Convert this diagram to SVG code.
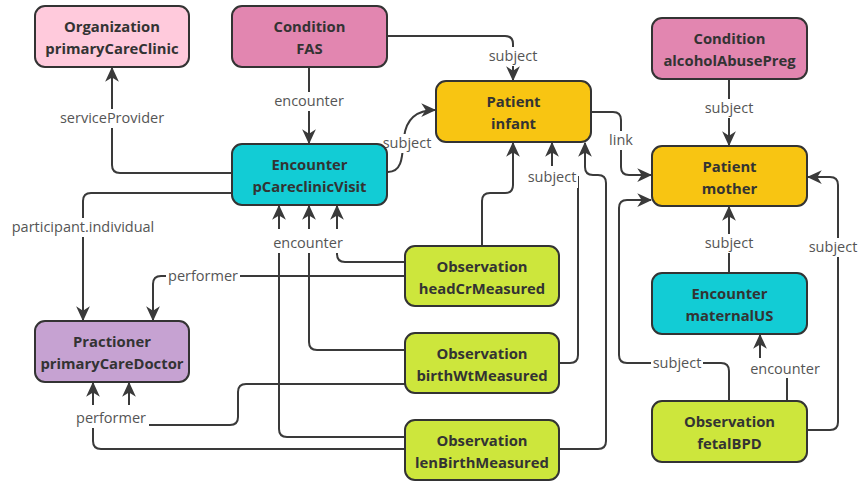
<svg xmlns="http://www.w3.org/2000/svg" width="859" height="482" viewBox="0 0 859 482">
  <style>
    .node rect { stroke: #333; stroke-width: 2; rx: 10; ry: 10; }
    .node text { font-family: "Open Sans", "DejaVu Sans", sans-serif; font-weight: 700; font-size: 14.8px; fill: #333; text-anchor: middle; }
    .org { fill: #FFCADC; }
    .cond { fill: #E286B0; }
    .enc { fill: #12CCD5; }
    .pat { fill: #F8C512; }
    .obs { fill: #CDE63C; }
    .prac { fill: #C6A2D2; }
    .edge { fill: none; stroke: #3a3a3a; stroke-width: 2; marker-end: url(#arrow); }
    .lbg { fill: #fff; }
    .lbl { font-family: "Open Sans", "DejaVu Sans", sans-serif; font-size: 14.5px; fill: #555; text-anchor: middle; }
  </style>
  <defs>
    <marker id="arrow" viewBox="0 0 12 12" refX="11" refY="6" markerWidth="15" markerHeight="15" markerUnits="userSpaceOnUse" orient="auto">
      <path d="M0,0.5 L12,6 L0,11.5 L3.5,6 z" fill="#3a3a3a"/>
    </marker>
  </defs>
  <rect width="859" height="482" fill="#fff"/>

  <!-- connectors -->
  <g id="connectors">
    <path class="edge" d="M232,173 H120 Q112,173 112,165 V68"/>
    <path class="edge" d="M309,67 V143"/>
    <path class="edge" d="M387,36 H505 Q513,36 513,44 V80"/>
    <path class="edge" d="M388,172 C404,172 402,152 404,137 C406,121 414,110 435,110"/>
    <path class="edge" d="M591,112 H613 Q621,112 621,120 V167 Q621,175 629,175 H651"/>
    <path class="edge" d="M729,79 V145"/>
    <path class="edge" d="M729,273 V207"/>
    <path class="edge" d="M787,401 V370 H760 V335"/>
    <path class="edge" d="M729,401 V371 Q729,363 721,363 H627 Q619,363 619,355 V208 Q619,200 627,200 H651"/>
    <path class="edge" d="M807,430 H830 Q838,430 838,422 V185 Q838,177 830,177 H808"/>
    <path class="edge" d="M232,193 H91 Q83,193 83,201 V320"/>
    <path class="edge" d="M405,276 H161 Q153,276 153,284 V320"/>
    <path class="edge" d="M405,262 H345 Q337,262 337,254 V206"/>
    <path class="edge" d="M405,350 H317 Q309,350 309,342 V206"/>
    <path class="edge" d="M405,437 H287 Q279,437 279,429 V206"/>
    <path class="edge" d="M405,384 H246 Q238,384 238,392 V417 Q238,425 230,425 H129 V383"/>
    <path class="edge" d="M405,449 H101 Q93,449 93,441 V383"/>
    <path class="edge" d="M559,363 H570 Q578,363 578,355 V177 H552 V143"/>
    <path class="edge" d="M482,246 V201 Q482,193 490,193 H505 Q513,193 513,185 V143"/>
    <path class="edge" d="M559,449 H598 Q606,449 606,441 V183 Q606,175 598,175 H593 Q585,175 585,167 V143"/>

    <!-- connector labels -->
    <rect class="lbg" x="58" y="109" width="108" height="19"/>
    <text class="lbl" x="112" y="123">serviceProvider</text>
    <rect class="lbg" x="273" y="92" width="72" height="19"/>
    <text class="lbl" x="309" y="106">encounter</text>
    <rect class="lbg" x="487" y="47" width="52" height="19"/>
    <text class="lbl" x="513" y="61">subject</text>
    <rect class="lbg" x="381" y="134" width="52" height="19"/>
    <text class="lbl" x="407" y="148">subject</text>
    <rect class="lbg" x="607" y="131" width="28" height="19"/>
    <text class="lbl" x="621" y="145">link</text>
    <rect class="lbg" x="703" y="99" width="52" height="19"/>
    <text class="lbl" x="729" y="113">subject</text>
    <rect class="lbg" x="703" y="234" width="52" height="19"/>
    <text class="lbl" x="729" y="248">subject</text>
    <rect class="lbg" x="749" y="358" width="72" height="20"/>
    <text class="lbl" x="785" y="374">encounter</text>
    <rect class="lbg" x="651" y="354" width="52" height="19"/>
    <text class="lbl" x="677" y="368">subject</text>
    <rect class="lbg" x="807" y="238" width="52" height="19"/>
    <text class="lbl" x="833" y="252">subject</text>
    <rect class="lbg" x="9" y="218" width="148" height="19"/>
    <text class="lbl" x="83" y="232">participant.individual</text>
    <rect class="lbg" x="166" y="267" width="74" height="19"/>
    <text class="lbl" x="203" y="281">performer</text>
    <rect class="lbg" x="271" y="229" width="74" height="24"/>
    <text class="lbl" x="308" y="248">encounter</text>
    <rect class="lbg" x="73" y="405" width="76" height="23"/>
    <text class="lbl" x="111" y="423">performer</text>
    <rect class="lbg" x="525" y="166" width="53" height="22"/>
    <text class="lbl" x="552" y="182">subject</text>
  </g>

  <!-- nodes -->
  <g id="organization-primaryCareClinic" class="node">
    <rect class="org" x="35" y="6" width="154" height="61"/>
    <text x="112" y="32">Organization</text>
    <text x="112" y="54">primaryCareClinic</text>
  </g>
  <g id="condition-FAS" class="node">
    <rect class="cond" x="232" y="6" width="155" height="61"/>
    <text x="309.5" y="32">Condition</text>
    <text x="309.5" y="54">FAS</text>
  </g>
  <g id="encounter-pCareclinicVisit" class="node">
    <rect class="enc" x="232" y="144" width="155" height="61"/>
    <text x="309.5" y="170">Encounter</text>
    <text x="309.5" y="192">pCareclinicVisit</text>
  </g>
  <g id="patient-infant" class="node">
    <rect class="pat" x="436" y="81" width="155" height="61"/>
    <text x="513.5" y="107">Patient</text>
    <text x="513.5" y="129">infant</text>
  </g>
  <g id="condition-alcoholAbusePreg" class="node">
    <rect class="cond" x="652" y="18" width="155" height="61"/>
    <text x="729.5" y="44">Condition</text>
    <text x="729.5" y="66">alcoholAbusePreg</text>
  </g>
  <g id="patient-mother" class="node">
    <rect class="pat" x="652" y="146" width="155" height="60"/>
    <text x="729.5" y="171.5">Patient</text>
    <text x="729.5" y="193.5">mother</text>
  </g>
  <g id="encounter-maternalUS" class="node">
    <rect class="enc" x="652" y="273" width="155" height="61"/>
    <text x="729.5" y="299">Encounter</text>
    <text x="729.5" y="321">maternalUS</text>
  </g>
  <g id="observation-fetalBPD" class="node">
    <rect class="obs" x="652" y="401" width="155" height="61"/>
    <text x="729.5" y="427">Observation</text>
    <text x="729.5" y="449">fetalBPD</text>
  </g>
  <g id="observation-headCrMeasured" class="node">
    <rect class="obs" x="405" y="246" width="154" height="60"/>
    <text x="482" y="271.5">Observation</text>
    <text x="482" y="293.5">headCrMeasured</text>
  </g>
  <g id="observation-birthWtMeasured" class="node">
    <rect class="obs" x="405" y="333" width="154" height="60"/>
    <text x="482" y="358.5">Observation</text>
    <text x="482" y="380.5">birthWtMeasured</text>
  </g>
  <g id="observation-lenBirthMeasured" class="node">
    <rect class="obs" x="405" y="420" width="154" height="60"/>
    <text x="482" y="445.5">Observation</text>
    <text x="482" y="467.5">lenBirthMeasured</text>
  </g>
  <g id="practitioner-primaryCareDoctor" class="node">
    <rect class="prac" x="35" y="321" width="154" height="61"/>
    <text x="112" y="347">Practioner</text>
    <text x="112" y="369">primaryCareDoctor</text>
  </g>
</svg>
